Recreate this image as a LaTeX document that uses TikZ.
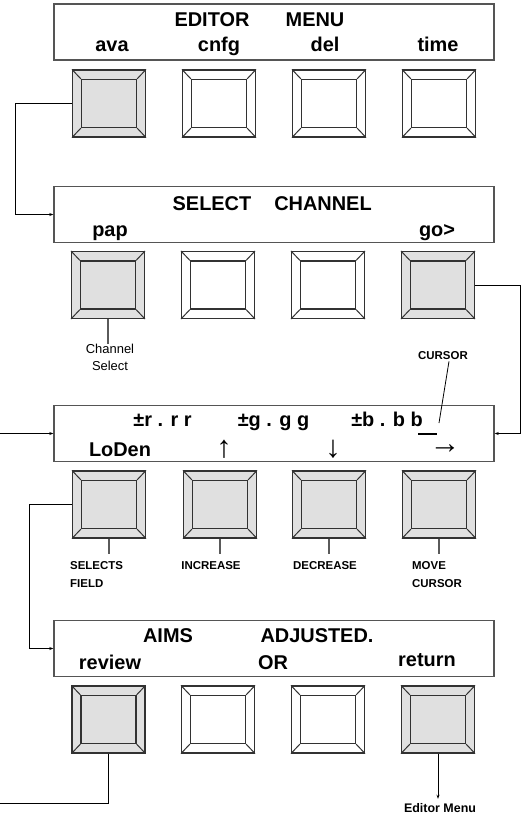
\documentclass[tikz,border=0pt]{standalone}
\usepackage{fontspec}
\setmainfont{Liberation Sans}
\usetikzlibrary{arrows.meta,calc}
\definecolor{keyfill}{RGB}{224,224,224}
\definecolor{keyline}{RGB}{50,50,50}
\definecolor{displine}{RGB}{85,85,85}
\definecolor{tickline}{RGB}{90,90,90}
\newcommand\keybtn[4]{%
  \node[keyout, fill=#4] (#1) at (#2,#3) {};
  \node[keyin, fill=#4] (#1i) at (#1.center) {};
  \draw[keybevel] (#1.north west) -- (#1i.north west)
                  (#1.north east) -- (#1i.north east)
                  (#1.south west) -- (#1i.south west)
                  (#1.south east) -- (#1i.south east);}
\begin{document}
\begin{tikzpicture}[x=1bp,y=-1bp,
  disp/.style={draw=displine, line width=1.4bp, minimum width=440bp, minimum height=56bp, inner sep=0pt},
  keyout/.style={draw=keyline, line width=1.2bp, minimum width=73bp, minimum height=67bp, inner sep=0pt},
  keyin/.style={draw=keyline, line width=1.2bp, minimum width=55bp, minimum height=48bp, inner sep=0pt},
  keybevel/.style={draw=keyline, line width=1bp},
  big/.style={font=\bfseries\fontsize{20}{24}\selectfont, inner sep=0pt, anchor=base},
  arr/.style={font=\fontsize{31}{34}\selectfont, inner sep=0pt},
  lbl/.style={font=\bfseries\fontsize{11.5}{14}\selectfont, inner sep=0pt, anchor=base},
  conn/.style={draw=black, line width=0.8bp},
  tick/.style={draw=tickline, line width=1.1bp},
  tip/.style={-{Stealth[length=4bp,width=3bp]}}
]
\useasboundingbox (0,0) rectangle (522,818);

% ---------- displays ----------
\node[disp] (d1) at (274,32) {};
\node[disp] (d2) at (274,214.5) {};
\node[disp] (d3) at (274,433.5) {};
\node[disp] (d4) at (274,648.5) {};

% display 1
\node[big] (t11) at (212,27) {EDITOR};
\node[big] (t12) at (315,27) {MENU};
\node[big] (t13) at (112,52) {ava};
\node[big] (t14) at (219,52) {cnfg};
\node[big] (t15) at (325,52) {del};
\node[big] (t16) at (438,52) {time};

% display 2
\node[big] (t21) at (212,210) {SELECT};
\node[big] (t22) at (323,210) {CHANNEL};
\node[big] (t23) at (110,236) {pap};
\node[big] (t24) at (437,236) {go>};

% display 3
\node[big] (t31) at (162.5,426) {±r . r r};
\node[big] (t32) at (273.5,426) {±g . g g};
\node[big] (t33) at (387,426) {±b . b b};
\coordinate (cu1) at (418,434);
\coordinate (cu2) at (437,434);
\draw[line width=1.3bp] (cu1) -- (cu2);
\node[big] (t34) at (120,456) {LoDen};
\node[arr] (t35) at (224,449) {↑};
\node[arr] (t36) at (333,449) {↓};
\node[arr] (t37) at (445,449) {→};

% display 4
\node[big] (t41) at (168,642) {AIMS};
\node[big] (t42) at (317,642) {ADJUSTED.};
\node[big] (t43) at (110,669) {review};
\node[big] (t44) at (273,669) {OR};
\node[big] (t45) at (427,666) {return};

% ---------- keys ----------
\keybtn{b11}{109}{103.5}{keyfill}
\keybtn{b12}{219}{103.5}{white}
\keybtn{b13}{329}{103.5}{white}
\keybtn{b14}{439}{103.5}{white}

\keybtn{b21}{108}{285}{keyfill}
\keybtn{b22}{218}{285}{white}
\keybtn{b23}{328}{285}{white}
\keybtn{b24}{438}{285}{keyfill}

\keybtn{b31}{109}{504.5}{keyfill}
\keybtn{b32}{220}{504.5}{keyfill}
\keybtn{b33}{329}{504.5}{keyfill}
\keybtn{b34}{439}{504.5}{keyfill}

\keybtn{b41}{108.5}{719.5}{keyfill}
\keybtn{b42}{218}{719.5}{white}
\keybtn{b43}{328}{719.5}{white}
\keybtn{b44}{438}{719.5}{keyfill}

% ---------- labels ----------
\node[font=\fontsize{13}{17}\selectfont, align=center, inner sep=0pt, anchor=north] (chs) at (110,344) {Channel\\Select};
\draw[tick] (b21.south) -- (b21.south |- chs.north);

\node[lbl] (cur) at (443,359) {CURSOR};
\coordinate (curtip) at (439,423);
\draw[conn] ([xshift=6bp,yshift=-2bp]cur.south) -- (curtip);

\node[lbl] (l31) at (70,569) [anchor=base west] {SELECTS};
\node[lbl] (l31b) at (70,587) [anchor=base west] {FIELD};
\node[lbl] (l32) at (211,569) {INCREASE};
\node[lbl] (l33) at (325,569) {DECREASE};
\node[lbl] (l34) at (412,569) [anchor=base west] {MOVE};
\node[lbl] (l34b) at (412,587) [anchor=base west] {CURSOR};
\draw[tick] (b31.south) -- ++(0,15);
\draw[tick] (b32.south) -- ++(0,15);
\draw[tick] (b33.south) -- ++(0,15);
\draw[tick] (b34.south) -- ++(0,15);

\node[font=\bfseries\fontsize{12.5}{15}\selectfont, inner sep=0pt, anchor=base] (em) at (440,812) {Editor Menu};

% ---------- connectors ----------
\coordinate (k1) at (15,0);
\draw[conn,tip] (b11.west) -- (b11.west -| k1) |- (d2.west);
\coordinate (k2) at (520,0);
\draw[conn,tip] (b24.east) -- (b24.east -| k2) |- (d3.east);
\coordinate (k3) at (0,433.5);
\draw[conn,tip] (k3) -- (d3.west);
\coordinate (k4) at (29,0);
\draw[conn,tip] (b31.west) -- (b31.west -| k4) |- (d4.west);
\coordinate (k5) at (0,803);
\draw[conn] (b41.south) |- (k5);
\draw[conn,tip] (b44.south) -- ([yshift=4bp]b44.south |- em.north);
\end{tikzpicture}
\end{document}
